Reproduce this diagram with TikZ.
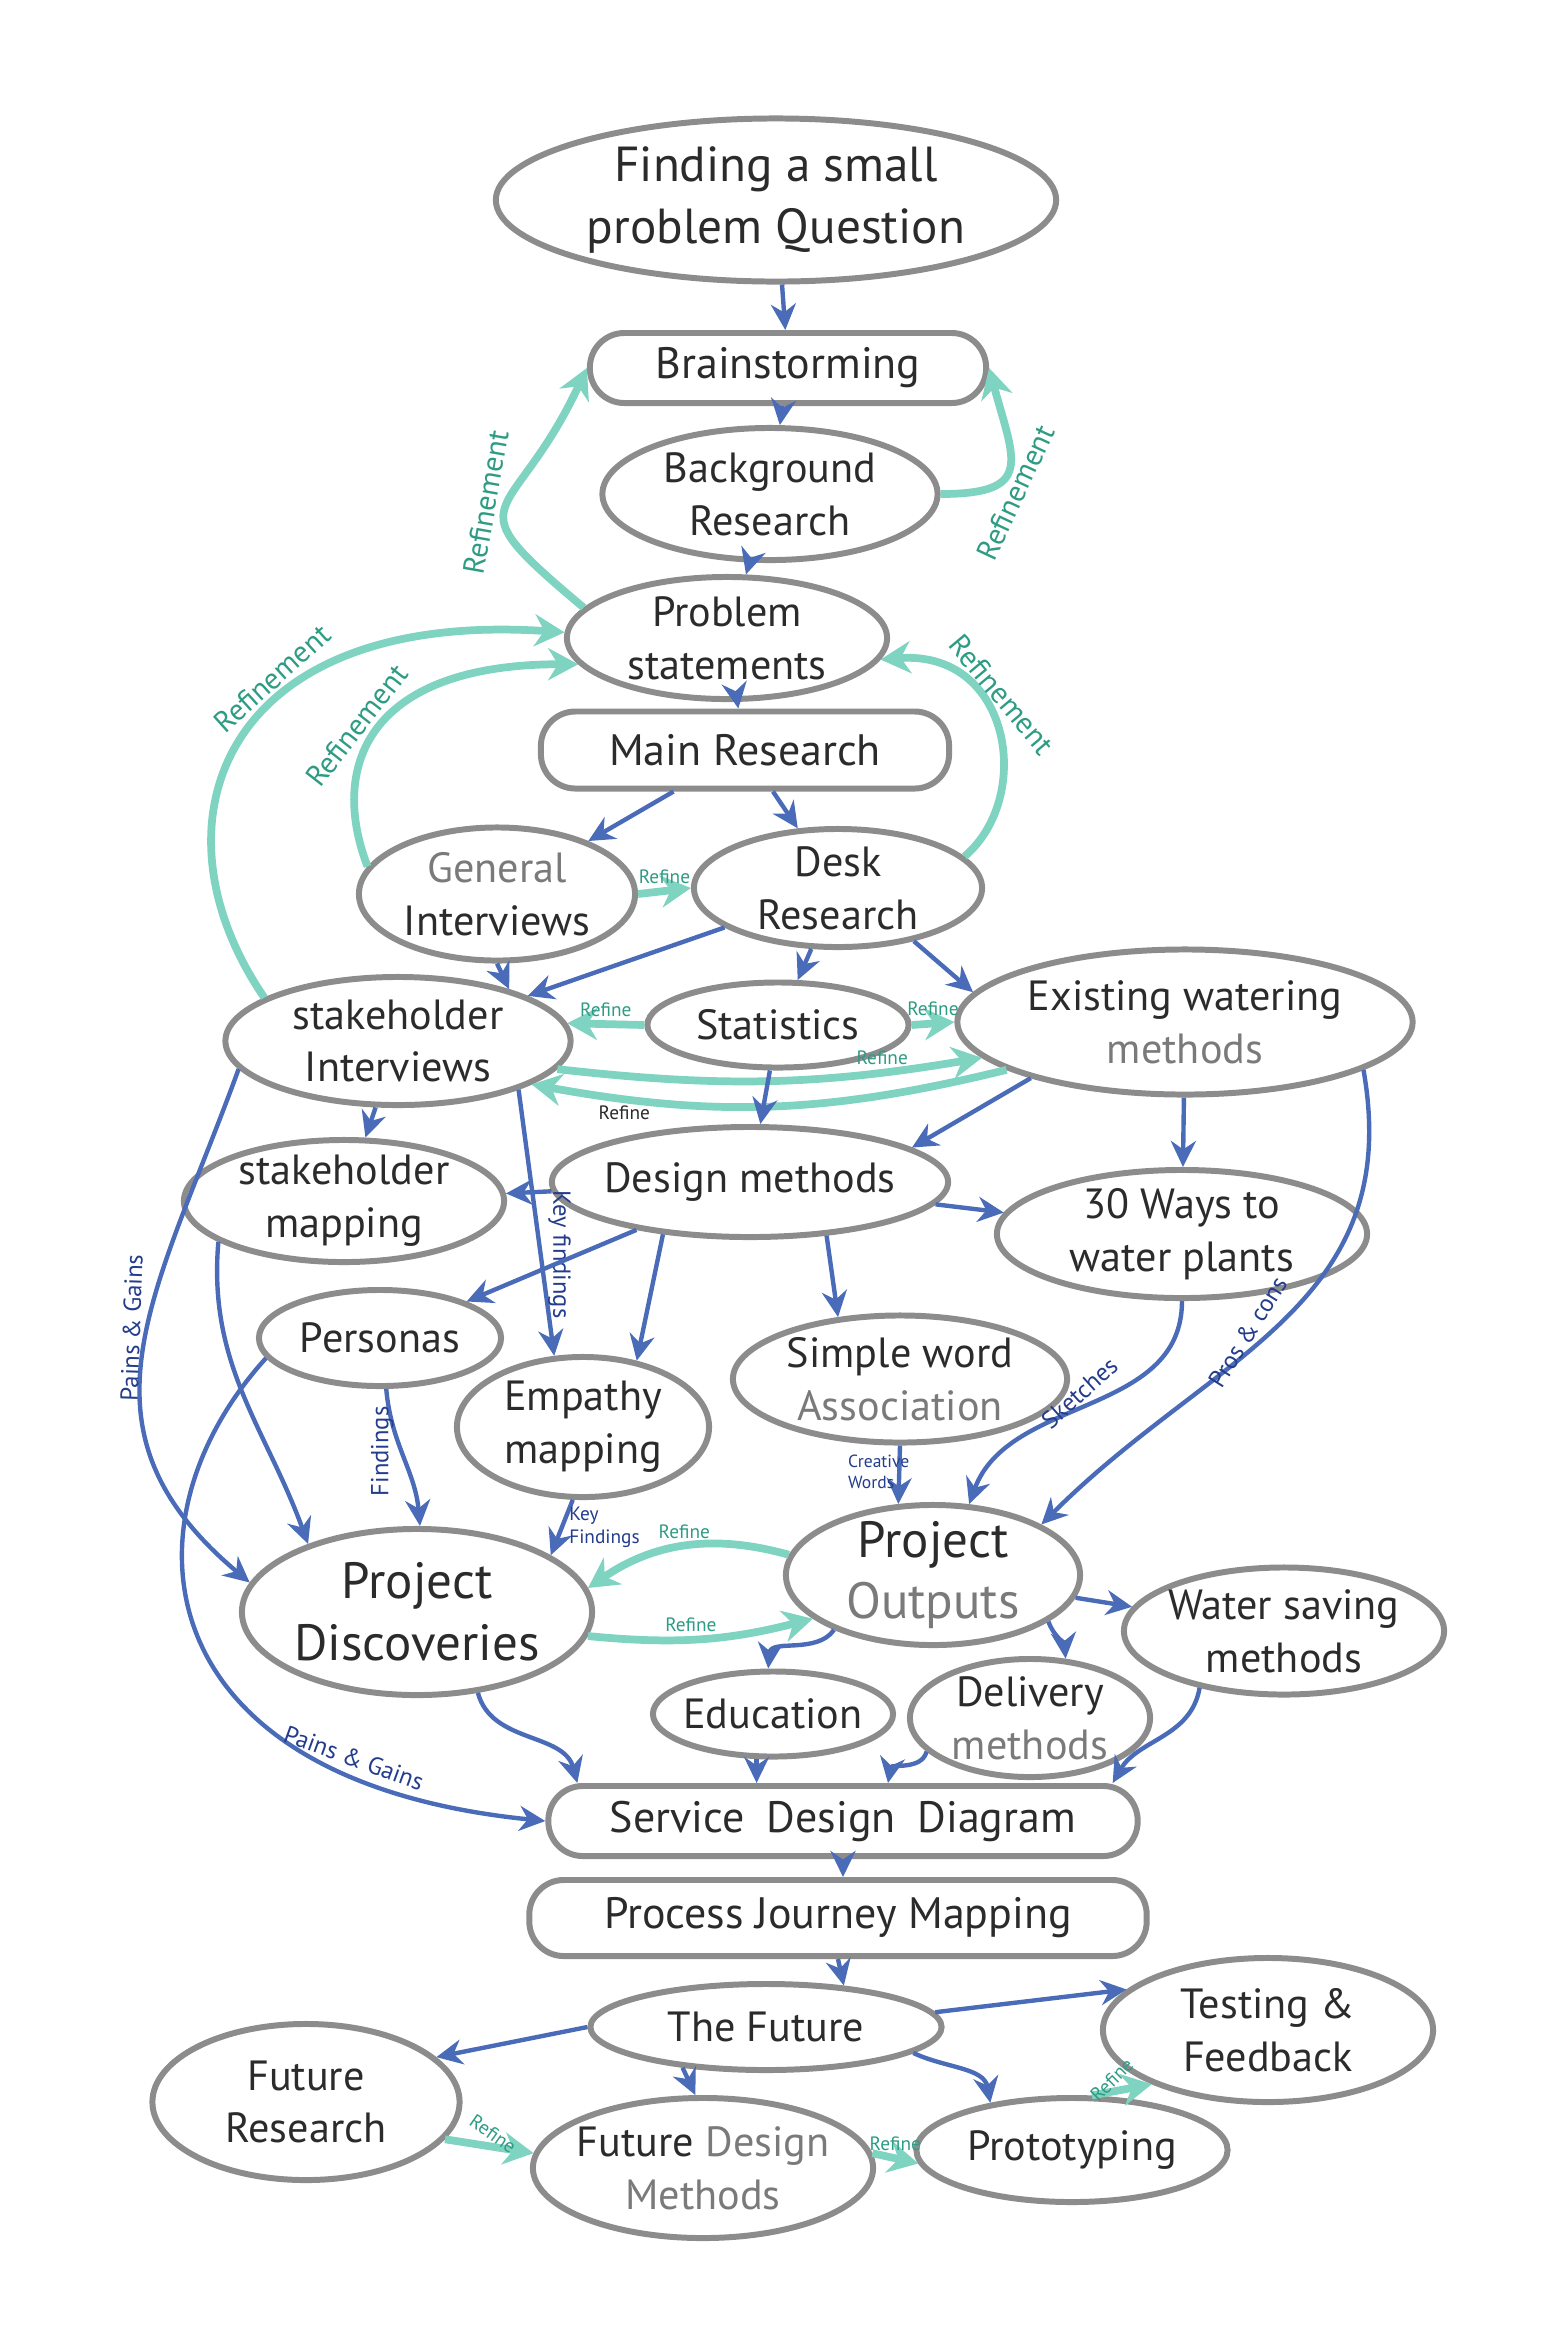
\documentclass[tikz,border=0pt]{standalone}
\usepackage{fontspec}
\setmainfont{PT Sans}
\usepackage{tikz}
\usetikzlibrary{positioning, arrows.meta, shapes.geometric, calc}
\definecolor{sketchBlue}{HTML}{4A6CB8}
\definecolor{sketchTeal}{HTML}{7ED3C1}
\definecolor{sketchGray}{HTML}{8C8C8C}
\definecolor{sketchInk}{HTML}{2B2B2B}
\definecolor{sketchPale}{HTML}{7A7A7A}
\definecolor{labelBlue}{HTML}{233C8C}
\definecolor{labelTeal}{HTML}{2E9C84}
\tikzset{
  bubble/.style={ellipse, draw=sketchGray, line width=1.7pt, text=sketchInk,
    align=center, inner xsep=-12pt, inner ysep=-5pt,
    font=\fontsize{12}{15}\selectfont},
  pillbox/.style={rectangle, rounded corners=9.8pt, draw=sketchGray,
    line width=1.7pt, text=sketchInk, align=center, inner sep=0pt,
    font=\fontsize{12.5}{15}\selectfont},
  arrowline/.style={-{Stealth[length=2.6mm, width=2.5mm]}, line width=1.25pt,
    sketchBlue},
  refineline/.style={-{Stealth[length=3mm, width=3.2mm]}, line width=2.2pt,
    sketchTeal},
  bluelabel/.style={font=\fontsize{7}{8}\selectfont, text=labelBlue,
    inner sep=1.5pt},
  teallabel/.style={font=\fontsize{8.5}{9.5}\selectfont, text=labelTeal,
    inner sep=1.5pt},
  tinylabel/.style={font=\fontsize{5.5}{6.5}\selectfont, text=labelTeal,
    inner sep=1pt},
}

\begin{document}
\begin{tikzpicture}[x=0.01cm, y=-0.01cm]
    \useasboundingbox (0,0) rectangle (1551,2326);
    % question and early research
    \node[bubble, minimum width=5.6cm, minimum height=1.63cm,
          font=\fontsize{14}{17.5}\selectfont] (find) at (776,200)
      {Finding a small\\problem Question};
    \node[pillbox, minimum width=3.96cm, minimum height=0.70cm] (brain)
      at (788,368) {Brainstorming};
    \node[bubble, minimum width=3.35cm, minimum height=1.32cm] (back)
      at (770,494) {Background\\Research};
    \node[bubble, minimum width=3.2cm, minimum height=1.22cm] (prob)
      at (727,638) {Problem\\statements};
    \node[pillbox, minimum width=4.08cm, minimum height=0.77cm] (main)
      at (745,750) {Main Research};
    \node[bubble, minimum width=2.76cm, minimum height=1.33cm] (gen)
      at (497,894) {{\color{sketchPale}General}\\Interviews};
    \node[bubble, minimum width=2.88cm, minimum height=1.18cm] (desk)
      at (838,888) {Desk\\Research};
    \node[bubble, minimum width=3.45cm, minimum height=1.28cm] (stint)
      at (398,1041) {stakeholder\\Interviews};
    \node[bubble, minimum width=2.61cm, minimum height=0.85cm] (stats)
      at (778,1025) {Statistics};
    \node[bubble, minimum width=4.55cm, minimum height=1.45cm] (exist)
      at (1185,1022) {Existing watering\\{\color{sketchPale}methods}};
    % design methods
    \node[bubble, minimum width=3.2cm, minimum height=1.22cm] (stmap)
      at (344,1201) {stakeholder\\mapping};
    \node[bubble, minimum width=3.96cm, minimum height=1.1cm] (design)
      at (750,1182) {Design methods};
    \node[bubble, minimum width=3.7cm, minimum height=1.28cm] (ways)
      at (1182,1234) {30 Ways to\\water plants};
    \node[bubble, minimum width=2.42cm, minimum height=0.96cm] (pers)
      at (380,1338) {Personas};
    \node[bubble, minimum width=2.52cm, minimum height=1.4cm] (emp)
      at (583,1427) {Empathy\\mapping};
    \node[bubble, minimum width=3.34cm, minimum height=1.27cm] (simple)
      at (900,1379) {Simple word\\{\color{sketchPale}Association}};
    \node[bubble, minimum width=3.5cm, minimum height=1.66cm,
          font=\fontsize{14.5}{17.5}\selectfont] (disc) at (417,1612)
      {Project\\Discoveries};
    \node[bubble, minimum width=2.94cm, minimum height=1.4cm,
          font=\fontsize{14.5}{17.5}\selectfont] (outp) at (933,1575)
      {Project\\{\color{sketchPale}Outputs}};
    \node[bubble, minimum width=3.2cm, minimum height=1.27cm] (water)
      at (1284,1631) {Water saving\\methods};
    \node[bubble, minimum width=2.4cm, minimum height=0.85cm] (edu)
      at (773,1714) {Education};
    \node[bubble, minimum width=2.4cm, minimum height=1.18cm] (deliv)
      at (1030,1718) {Delivery\\{\color{sketchPale}methods}};
    % service design and future
    \node[pillbox, minimum width=5.89cm, minimum height=0.70cm] (sdd)
      at (843,1821) {Service\enspace Design\enspace Diagram};
    \node[pillbox, minimum width=6.17cm, minimum height=0.76cm] (pjm)
      at (838,1918) {Process Journey Mapping};
    \node[bubble, minimum width=3.51cm, minimum height=0.86cm] (future)
      at (766,2027) {The Future};
    \node[bubble, minimum width=3.3cm, minimum height=1.44cm] (test)
      at (1268,2030) {Testing \&\\Feedback};
    \node[bubble, minimum width=3.07cm, minimum height=1.56cm] (fres)
      at (306,2102) {Future\\Research};
    \node[bubble, minimum width=3.4cm, minimum height=1.4cm] (fdm)
      at (703,2168)
      {Future {\color{sketchPale}Design}\\{\color{sketchPale}Methods}};
    \node[bubble, minimum width=3.11cm, minimum height=1.04cm] (proto)
      at (1072,2150) {Prototyping};

    % top of the column
    \draw[arrowline] (find) -- (brain);
    \draw[arrowline] (brain) -- (back);
    \draw[arrowline] (back) -- (prob);
    \draw[arrowline] (prob) -- (main);
    \draw[arrowline] (main) -- (gen);
    \draw[arrowline] (main) -- (desk);
    \draw[refineline] (prob.168) to[out=140, in=245, looseness=1.9]
      node[pos=0.5, rotate=80, anchor=south, teallabel] {Refinement}
      (brain.west);
    \draw[refineline] (back.east) to[out=0, in=-75, looseness=1.8]
      node[pos=0.3, rotate=65, anchor=north, teallabel] {Refinement}
      (brain.east);
    \draw[refineline] (stint.162) .. controls ($(stint.162)+(-120,-175)$)
      and ($(prob.178)+(-342,-23)$) .. (prob.178)
      node[pos=0.62, rotate=42, anchor=south, teallabel] {Refinement};
    \draw[refineline] (gen.168) .. controls ($(gen.168)+(-40,-105)$)
      and ($(prob.190)+(-205,0)$) .. (prob.190)
      node[pos=0.45, rotate=52, anchor=south, teallabel] {Refinement};
    \draw[refineline] (desk.14) .. controls ($(desk.14)+(70,-60)$)
      and ($(prob.-8)+(130,-10)$) .. (prob.-8)
      node[pos=0.6, rotate=-50, anchor=south, teallabel] {Refinement};

    % research layer
    \draw[refineline] (gen.east) -- node[above, tinylabel] {Refine} (desk.west);
    \draw[arrowline] (gen.south) -- (stint.25);
    \draw[arrowline] (desk) -- (stint);
    \draw[arrowline] (desk) -- (stats);
    \draw[arrowline] (desk.-35) -- (exist.172);
    \draw[refineline] (stats.west) -- node[above, tinylabel] {Refine}
      (stint.6);
    \draw[refineline] (stats.east) -- node[above, tinylabel] {Refine}
      (exist.west);
    \draw[refineline] (stint.-10) to[bend right=8]
      node[pos=0.78, above, tinylabel] {Refine} (exist.190);
    \draw[refineline] (exist.195) to[bend left=12]
      node[pos=0.82, below, tinylabel, text=sketchInk] {Refine} (stint.-18);

    % design methods
    \draw[arrowline] (stats) -- (design);
    \draw[arrowline] (exist.-160) -- (design.12);
    \draw[arrowline] (exist) -- (ways);
    \draw[arrowline] (exist.-15) to[out=-80, in=45, looseness=1.1]
      node[pos=0.55, rotate=58, anchor=south, bluelabel] {Pros \& cons}
      (outp.25);
    \draw[arrowline] (stint) -- (stmap);
    \draw[arrowline] (stint.-22) --
      node[pos=0.62, rotate=-90, anchor=south, bluelabel] {Key findings}
      (emp.112);
    \draw[arrowline] (stint.190) to[out=-110, in=140, looseness=1.2]
      node[pos=0.45, rotate=88, anchor=south, bluelabel] {Pains \& Gains}
      (disc.170);
    \draw[arrowline] (stmap.198) to[out=-95, in=110] (disc.148);
    \draw[arrowline] (pers.-83) to[out=-85, in=95]
      node[pos=0.45, rotate=90, anchor=south, bluelabel] {Findings}
      (disc.88);
    \draw[arrowline] (pers.190) .. controls ($(pers.190)+(-150,165)$)
      and ($(sdd.west)+(-400,-40)$) .. (sdd.west)
      node[pos=0.8, rotate=-20, anchor=south, bluelabel] {Pains \& Gains};
    \draw[arrowline] (design) -- (stmap);
    \draw[arrowline] (design) -- (pers);
    \draw[arrowline] (design.211) -- (emp.51);
    \draw[arrowline] (design.-35) -- (simple.135);
    \draw[arrowline] (design) -- (ways);

    % outputs
    \draw[arrowline] (emp.-98) --
      node[pos=0.5, right, bluelabel, align=left,
           font=\fontsize{5.5}{6.5}\selectfont] {Key\\Findings}
      (disc.23);
    \draw[arrowline] (simple.south) --
      node[pos=0.45, anchor=east, xshift=5pt, bluelabel, align=left,
           font=\fontsize{5}{6}\selectfont] {Creative\\Words}
      (outp.116);
    \draw[arrowline] (ways.south) to[out=-90, in=70]
      node[pos=0.5, rotate=42, anchor=south, bluelabel] {Sketches}
      (outp.63);
    \draw[refineline] (outp.172) to[bend right=25]
      node[above, tinylabel] {Refine} (disc.8);
    \draw[refineline] (disc.-8) to[bend right=10]
      node[pos=0.45, above, tinylabel] {Refine} (outp.-160);
    \draw[arrowline] (outp) -- (water);
    \draw[arrowline] (outp.209) to[out=-125, in=85] (edu.96);
    \draw[arrowline] (outp.-22) to[out=-70, in=95] (deliv.59);

    % into the service design diagram
    \draw[arrowline] (disc.-53) to[out=-75, in=105]
      ($(sdd.north west)+(32,0)$);
    \draw[arrowline] (edu.-110) -- (edu.-110 |- sdd.north);
    \draw[arrowline] (deliv.198) to[out=-105, in=80]
      ($(sdd.north)+(45,0)$);
    \draw[arrowline] (water.214) to[out=-100, in=60]
      ($(sdd.north east)+(-28,0)$);
    \draw[arrowline] (sdd.south) -- (sdd.south |- pjm.north);
    \draw[arrowline] (pjm.south) -- (future.28);

    % the future
    \draw[arrowline] (future.5) -- (test.164);
    \draw[arrowline] (future.west) -- (fres.19);
    \draw[arrowline] (future.206) -- (fdm.96);
    \draw[arrowline] (future.-10) to[out=-25, in=100] (proto.150);
    \draw[refineline] (fres.-15) --
      node[pos=0.45, rotate=-35, anchor=south, tinylabel] {Refine}
      (fdm.175);
    \draw[refineline] (fdm.5) -- node[above, tinylabel] {Refine}
      (proto.185);
    \draw[refineline] (proto.70) --
      node[pos=0.5, rotate=45, anchor=south, tinylabel] {Refine}
      (test.205);
\end{tikzpicture}
\end{document}
